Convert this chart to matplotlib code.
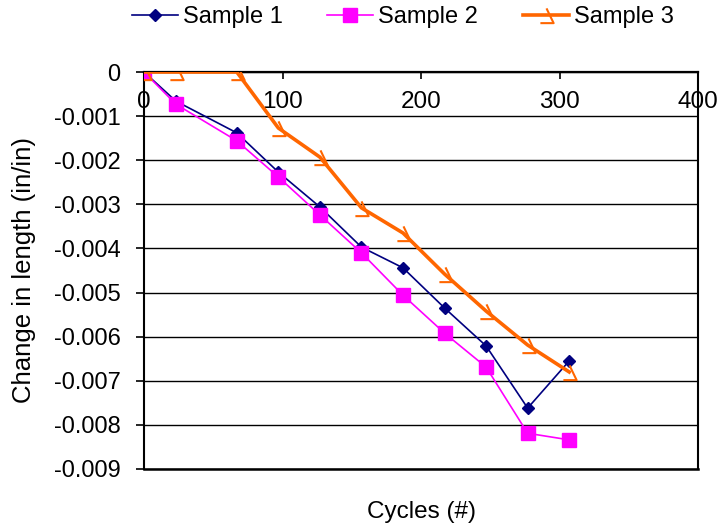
import matplotlib.pyplot as plt
from matplotlib.path import Path

plt.rcParams['font.family'] = ['Liberation Sans', 'DejaVu Sans']
plt.rcParams['axes.unicode_minus'] = False

cycles = [0, 23, 67, 97, 127, 157, 187, 217, 247, 277, 307]
sample1 = [0, -0.00066, -0.00138, -0.00227, -0.00306, -0.00397,
           -0.00444, -0.00535, -0.00621, -0.00762, -0.00655]
sample2 = [0, -0.00073, -0.00156, -0.00238, -0.00324, -0.00410,
           -0.00506, -0.00592, -0.00669, -0.00819, -0.00834]
sample3 = [0, 0, 0, -0.00127, -0.00193, -0.00308,
           -0.00365, -0.00458, -0.00542, -0.00619, -0.00680]

xticks = [0, 100, 200, 300, 400]
yticks = [0, -0.001, -0.002, -0.003, -0.004, -0.005, -0.006, -0.007, -0.008, -0.009]
ylabels = ['0', '-0.001', '-0.002', '-0.003', '-0.004', '-0.005',
           '-0.006', '-0.007', '-0.008', '-0.009']

# open hook-shaped marker for the third series
hook = Path([(-6, -7.5), (7, -7.5), (0, 7)],
            [Path.MOVETO, Path.LINETO, Path.LINETO])

fig = plt.figure(figsize=(7.19, 5.31), dpi=100)
ax = fig.add_axes([0.2003, 0.1168, 0.9708 - 0.2003, 0.8644 - 0.1168])

ax.plot(cycles, sample1, color='#000080', lw=1.2, marker='D', ms=6,
        mfc='#000080', mec='#000080', label='Sample 1', zorder=3)
ax.plot(cycles, sample2, color='#FF00FF', lw=1.2, marker='s', ms=9.5,
        mfc='#FF00FF', mec='#FF00FF', label='Sample 2', zorder=4)
ax.plot(cycles, sample3, color='#FF6600', lw=2.6, marker=hook, ms=11,
        mfc='none', mec='#FF6600', mew=1.5, label='Sample 3', zorder=5)

ax.set_xlim(0, 400)
ax.set_ylim(-0.009, 0)
ax.set_xticks(xticks)
ax.set_yticks(yticks)
ax.set_yticklabels(ylabels)

# x axis crosses at zero, along the top of the plot
ax.spines['bottom'].set_position(('data', 0))
ax.spines['bottom'].set_linewidth(1.6)
ax.spines['top'].set_visible(False)
for side in ('left', 'right'):
    ax.spines[side].set_linewidth(1.5)
    ax.spines[side].set_color('black')
ax.axhline(-0.009, color='black', lw=1.8, clip_on=False, zorder=2)

ax.yaxis.grid(True, color='black', lw=1.0)
ax.set_axisbelow(True)

ax.tick_params(axis='x', direction='out', length=5, width=1.2, pad=9,
               labelsize=17.5)
ax.tick_params(axis='y', direction='out', length=6, width=1.2, pad=11,
               labelsize=17)

ax.set_xlabel('Cycles (#)', fontsize=17.5)
ax.xaxis.set_label_coords(0.5, -0.08)
ax.set_ylabel('Change in length (in/in)', fontsize=18.5)
ax.yaxis.set_label_coords(-0.195, 0.5)

fig.legend(loc='center', bbox_to_anchor=(0.56, 0.968), ncol=3, frameon=False,
           fontsize=17, handlelength=1.95, handletextpad=0.2,
           columnspacing=1.9, borderpad=0)

fig.savefig('out.png', dpi=100)
